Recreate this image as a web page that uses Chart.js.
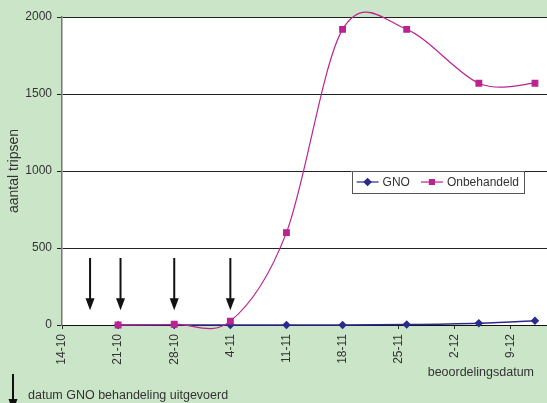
<!DOCTYPE html>
<html>
<head>
<meta charset="utf-8">
<script src="https://cdn.jsdelivr.net/npm/chart.js@4.4.0/dist/chart.umd.min.js"></script>
<style>
  html, body { margin: 0; padding: 0; background: #cae5c8; }
  #wrap { width: 547px; height: 403px; position: relative; }
</style>
</head>
<body>
<div id="wrap"><canvas id="chart"></canvas></div>
<script>
// Data (dates as day-month, autumn of one season)
const tickLabels = ["14-10", "21-10", "28-10", "4-11", "11-11", "18-11", "25-11", "2-12", "9-12"];
const sampleDates = ["21-10", "28-10", "4-11", "11-11", "18-11", "26-11", "5-12", "12-12"];
const gnoValues = [0, 0, 0, 0, 0, 3, 12, 28];
const untreatedValues = [0, 5, 25, 600, 1920, 1920, 1570, 1570];
const treatmentDates = ["17.5-10", "21.3-10", "28-10", "4-11"];
const seriesNames = ["GNO", "Onbehandeld"];

const FONT = '"Liberation Sans", Arial, sans-serif';
const TEXT = "#333";

// day number counted from the first tick label
function dayOf(str) {
    const parts = str.split("-");
    const d = parseFloat(parts[0]);
    const m = parseInt(parts[1], 10);
    const t = Date.UTC(2008, m - 1, 1) + (d - 1) * 86400000;
    const p = tickLabels[0].split("-");
    const t0 = Date.UTC(2008, parseInt(p[1], 10) - 1, parseFloat(p[0]));
    return (t - t0) / 86400000;
}

const tickDays = tickLabels.map(dayOf);
const toPoints = (vals) => sampleDates.map((d, i) => ({ x: dayOf(d), y: vals[i] }));

// white plot area
const plotBackground = {
    id: "plotBackground",
    beforeDraw(chart) {
        const { ctx, chartArea } = chart;
        ctx.save();
        ctx.fillStyle = "#fff";
        ctx.fillRect(chartArea.left, chartArea.top, chartArea.right - chartArea.left, chartArea.bottom - chartArea.top);
        ctx.restore();
    }
};

// spreadsheet-style smoothing: control points at +-(next - prev) / 6
const sheetSmoothing = {
    id: "sheetSmoothing",
    beforeDatasetDraw(chart, args) {
        const pts = args.meta.data;
        const n = pts.length;
        for (let i = 0; i < n; i++) {
            const prev = pts[Math.max(i - 1, 0)];
            const next = pts[Math.min(i + 1, n - 1)];
            const dx = (next.x - prev.x) / 6;
            const dy = (next.y - prev.y) / 6;
            pts[i].cp1x = pts[i].x - dx;
            pts[i].cp1y = pts[i].y - dy;
            pts[i].cp2x = pts[i].x + dx;
            pts[i].cp2y = pts[i].y + dy;
        }
        args.meta.dataset._pointsUpdated = true;
    }
};

function drawArrow(ctx, x, yTop, yTip) {
    ctx.beginPath();
    ctx.moveTo(x, yTop);
    ctx.lineTo(x, yTip - 10);
    ctx.stroke();
    ctx.beginPath();
    ctx.moveTo(x - 4.5, yTip - 12);
    ctx.lineTo(x + 4.5, yTip - 12);
    ctx.lineTo(x, yTip);
    ctx.closePath();
    ctx.fill();
}

// treatment arrows, x axis title and caption under the chart
const treatmentArrows = {
    id: "treatmentArrows",
    afterDatasetsDraw(chart) {
        const { ctx, scales, chartArea } = chart;
        ctx.save();
        ctx.strokeStyle = "#111";
        ctx.fillStyle = "#111";
        ctx.lineWidth = 2;
        treatmentDates.forEach(d => {
            const x = scales.x.getPixelForValue(dayOf(d));
            drawArrow(ctx, x, scales.y.getPixelForValue(435), scales.y.getPixelForValue(95));
        });
        drawArrow(ctx, 13, 374, 411);
        ctx.fillStyle = TEXT;
        ctx.textBaseline = "middle";
        ctx.font = "12.5px " + FONT;
        ctx.textAlign = "right";
        ctx.fillText("beoordelingsdatum", chartArea.right - 13, chartArea.bottom + 48);
        ctx.textAlign = "left";
        ctx.fillText("datum GNO behandeling uitgevoerd", 28, 396);
        ctx.restore();
    }
};

// boxed legend inside the plot
const boxLegend = {
    id: "boxLegend",
    afterDraw(chart) {
        const { ctx, chartArea } = chart;
        ctx.save();
        ctx.font = "12px " + FONT;
        const sample = 22, gap = 4, pad = 5, itemGap = 11, h = 22;
        const items = chart.data.datasets.map(ds => ({ ds, w: ctx.measureText(ds.label).width }));
        let w = pad;
        items.forEach((it, i) => { w += sample + gap + it.w + (i < items.length - 1 ? itemGap : pad); });
        const right = chartArea.right - 23;
        const top = chartArea.top + 154;
        const left = right - w;
        ctx.fillStyle = "#fff";
        ctx.fillRect(left, top, w, h);
        ctx.strokeStyle = "#555";
        ctx.lineWidth = 1;
        ctx.strokeRect(Math.round(left) + 0.5, top + 0.5, Math.round(w), h);
        let x = left + pad;
        const cy = top + h / 2;
        items.forEach(it => {
            ctx.strokeStyle = it.ds.borderColor;
            ctx.fillStyle = it.ds.backgroundColor;
            ctx.lineWidth = 1.2;
            ctx.beginPath();
            ctx.moveTo(x, cy);
            ctx.lineTo(x + sample, cy);
            ctx.stroke();
            Chart.helpers.drawPoint(ctx, { pointStyle: it.ds.pointStyle, radius: 3.5, rotation: 0, borderWidth: 1 }, x + sample / 2, cy);
            x += sample + gap;
            ctx.fillStyle = TEXT;
            ctx.textBaseline = "middle";
            ctx.fillText(it.ds.label, x, cy + 1);
            x += it.w + itemGap;
        });
        ctx.restore();
    }
};

new Chart(document.getElementById("chart"), {
    type: "line",
    data: {
        datasets: [
            {
                label: seriesNames[0],
                data: toPoints(gnoValues),
                borderColor: "#2b2b8e",
                backgroundColor: "#2b2b8e",
                pointStyle: "rectRot",
                pointRadius: 3.2,
                borderWidth: 1.5,
                tension: 0.4,
                clip: false,
                order: 2
            },
            {
                label: seriesNames[1],
                data: toPoints(untreatedValues),
                borderColor: "#bb2490",
                backgroundColor: "#bb2490",
                pointStyle: "rect",
                pointRadius: 4,
                borderWidth: 1.2,
                tension: 0.4,
                clip: false,
                order: 1
            }
        ]
    },
    options: {
        responsive: true,
        maintainAspectRatio: false,
        animation: false,
        layout: { autoPadding: false, padding: { top: 17, right: 0, bottom: 20, left: 0 } },
        elements: { line: { capBezierPoints: false } },
        plugins: {
            legend: { display: false },
            tooltip: { enabled: false }
        },
        scales: {
            x: {
                type: "linear",
                min: 0,
                max: 60.5,
                afterBuildTicks: (scale) => { scale.ticks = tickDays.map(v => ({ value: v })); },
                afterFit: (scale) => {
                    scale.height = 58;
                    scale.paddingLeft = 0;
                    scale.paddingRight = 0;
                },
                ticks: {
                    autoSkip: false,
                    minRotation: 90,
                    maxRotation: 90,
                    padding: 5,
                    color: TEXT,
                    font: { family: FONT, size: 12 },
                    callback: (v) => tickLabels[tickDays.indexOf(v)]
                },
                grid: { drawOnChartArea: false, drawTicks: true, tickLength: 4, color: "#333" },
                border: { display: true, color: "#111", width: 1 }
            },
            y: {
                min: 0,
                max: 2000,
                afterFit: (scale) => { scale.width = 62; },
                ticks: {
                    stepSize: 500,
                    padding: 5,
                    color: TEXT,
                    font: { family: FONT, size: 12 },
                    callback: (v) => String(v)
                },
                grid: { color: "#222", lineWidth: 1, tickLength: 5, drawTicks: true },
                border: { display: true, color: "#777", width: 1.5 },
                title: {
                    display: true,
                    text: "aantal tripsen",
                    color: TEXT,
                    font: { family: FONT, size: 14 },
                    padding: { top: 6, bottom: 0 }
                }
            }
        }
    },
    plugins: [plotBackground, sheetSmoothing, treatmentArrows, boxLegend]
});
</script>
</body>
</html>
